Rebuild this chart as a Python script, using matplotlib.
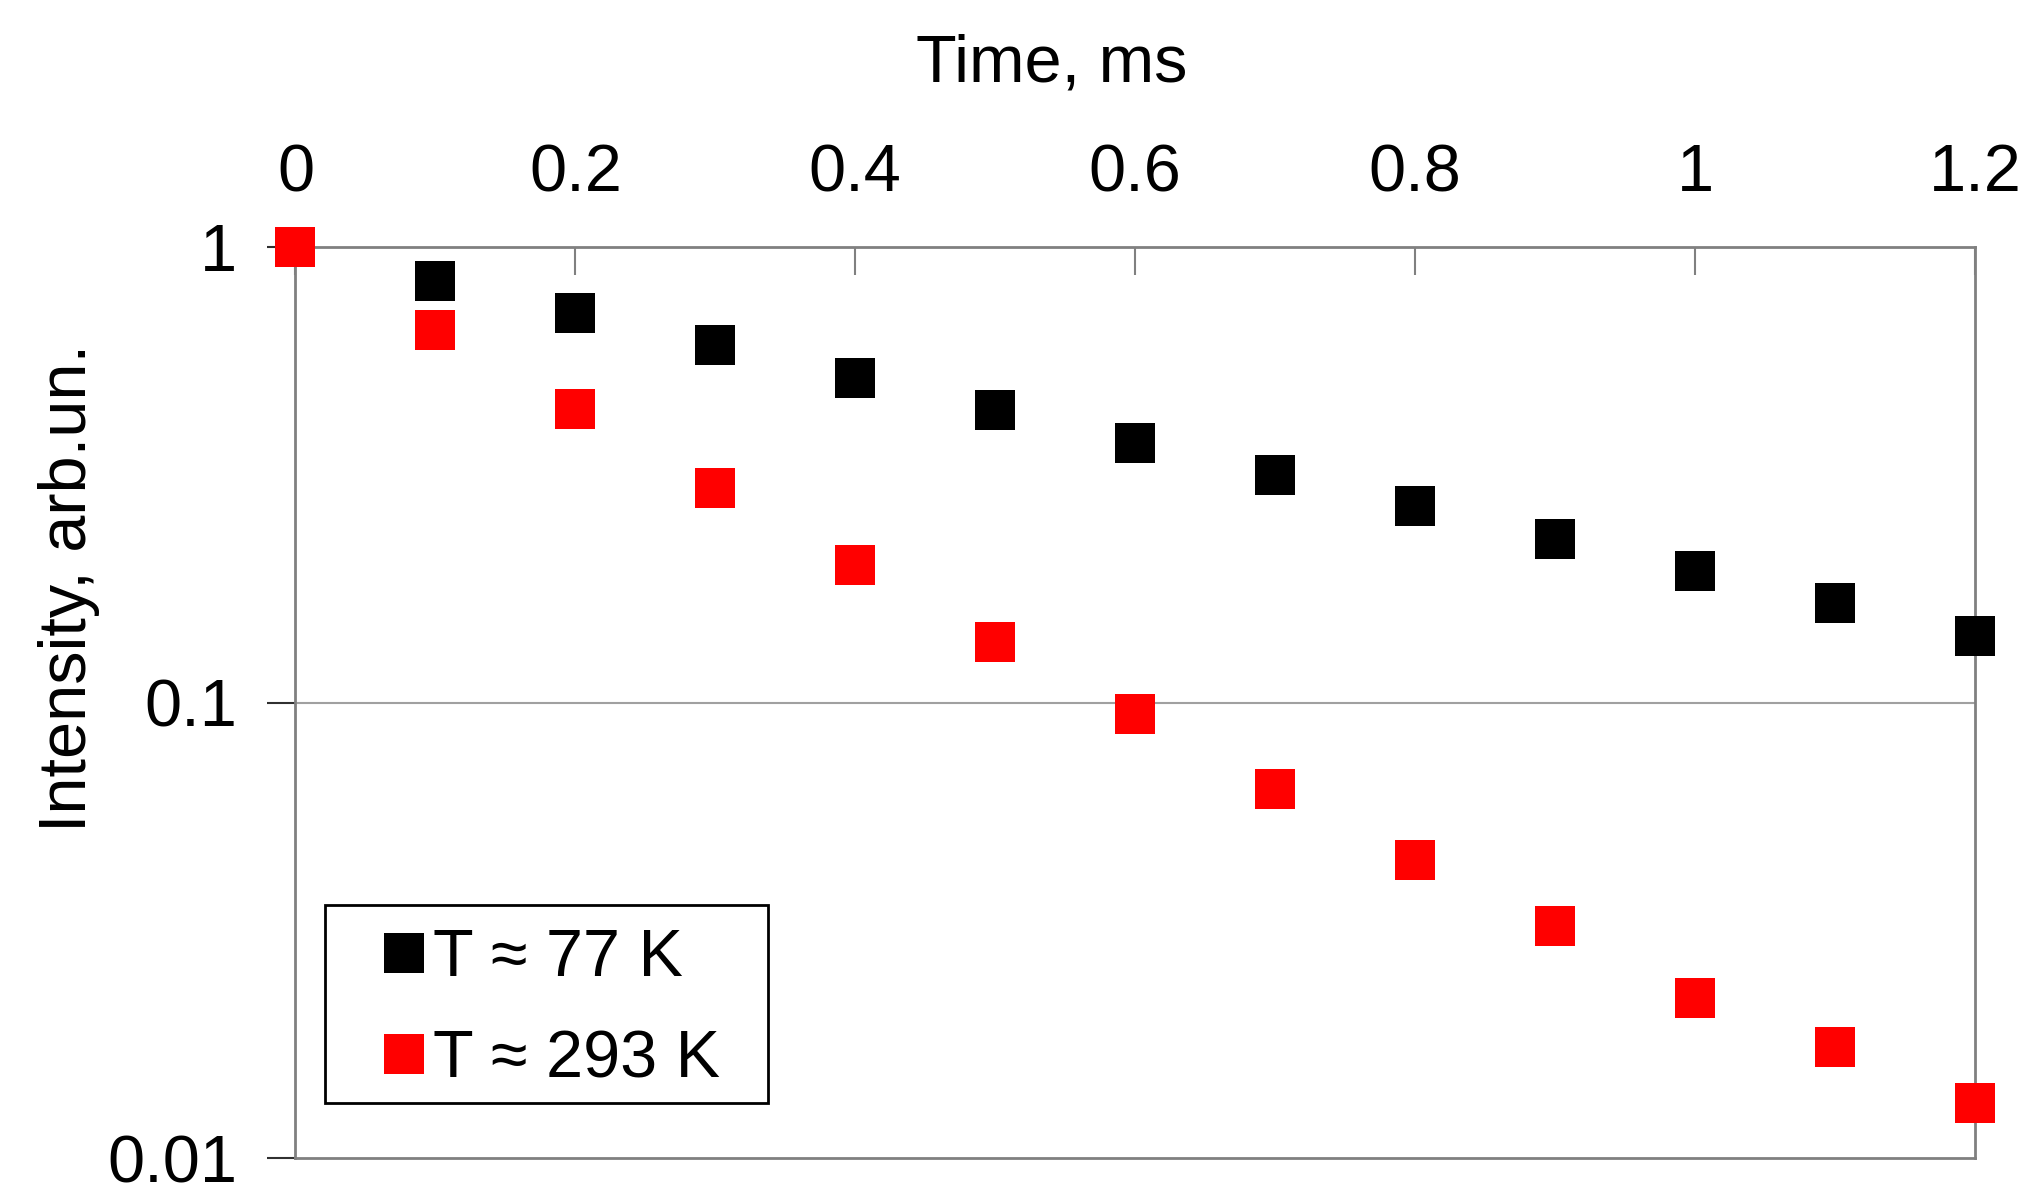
import matplotlib.pyplot as plt
import numpy as np
from matplotlib.patches import Rectangle

plt.rcParams['font.family'] = ['Liberation Sans', 'DejaVu Sans']

time_ms = [0, 0.1, 0.2, 0.3, 0.4, 0.5, 0.6, 0.7, 0.8, 0.9, 1.0, 1.1, 1.2]
int_77k = [1.0, 0.843, 0.716, 0.608, 0.516, 0.438, 0.372, 0.316, 0.270, 0.229, 0.194, 0.165, 0.140]
int_293k = [1.0, 0.657, 0.441, 0.296, 0.200, 0.136, 0.0946, 0.0647, 0.0451, 0.0323, 0.0225, 0.0175, 0.0132]
x_ticks = [0, 0.2, 0.4, 0.6, 0.8, 1, 1.2]
x_ticklabels = ['0', '0.2', '0.4', '0.6', '0.8', '1', '1.2']
y_ticks = [0.01, 0.1, 1]
y_ticklabels = ['0.01', '0.1', '1']

fig = plt.figure(figsize=(20.32, 11.83), dpi=100)
ax = fig.add_axes([0.1454, 0.0211, 0.8265, 0.7701])

fs = 48
ms = 29
ax.plot(time_ms, int_77k, linestyle='none', marker='s', markersize=ms, color='black',
        markeredgewidth=0, label='T ≈ 77 K', clip_on=False, zorder=3)
ax.plot(time_ms, int_293k, linestyle='none', marker='s', markersize=ms, color='#ff0000',
        markeredgewidth=0, label='T ≈ 293 K', clip_on=False, zorder=4)

ax.set_yscale('log')
ax.set_xlim(0, 1.2)
ax.set_ylim(0.01, 1)
ax.set_xticks(x_ticks)
ax.set_xticklabels(x_ticklabels)
ax.set_yticks(y_ticks)
ax.set_yticklabels(y_ticklabels)
ax.yaxis.set_minor_locator(plt.NullLocator())

ax.xaxis.tick_top()
ax.tick_params(axis='x', direction='in', length=20, width=1.5, color='#808080',
               labelsize=fs, pad=30)
ax.tick_params(axis='y', direction='out', length=20, width=1.5, color='#303030',
               labelsize=fs, pad=22)

# axis titles placed like the original (not centred on the axes)
fig.text(0.5177, 0.9307, 'Time, ms', fontsize=fs, ha='center', va='baseline')
fig.text(0.034, 0.503, 'Intensity, arb.un.', fontsize=fs, rotation=90,
         ha='center', va='center')

ax.axhline(0.1, color='#a0a0a0', linewidth=1.5, zorder=1)
for s in ax.spines.values():
    s.set_color('#808080')
    s.set_linewidth(2)

# legend entries without frame, box drawn separately so rows sit like the original
leg = ax.legend(loc='lower left', bbox_to_anchor=(0.0176, 0.0518, 0.2638, 0.2173),
                mode='expand', borderaxespad=0, fontsize=fs, frameon=False,
                handlelength=1.78, handletextpad=-0.45, borderpad=0.29,
                labelspacing=0.59, markerscale=41 / 1.389 / ms)
leg.set_zorder(6)
ax.add_patch(Rectangle((0.0176, 0.0604), 0.2638, 0.2173, transform=ax.transAxes,
                       facecolor='white', edgecolor='black', linewidth=2, zorder=5))

fig.savefig('out.png', dpi=100)
